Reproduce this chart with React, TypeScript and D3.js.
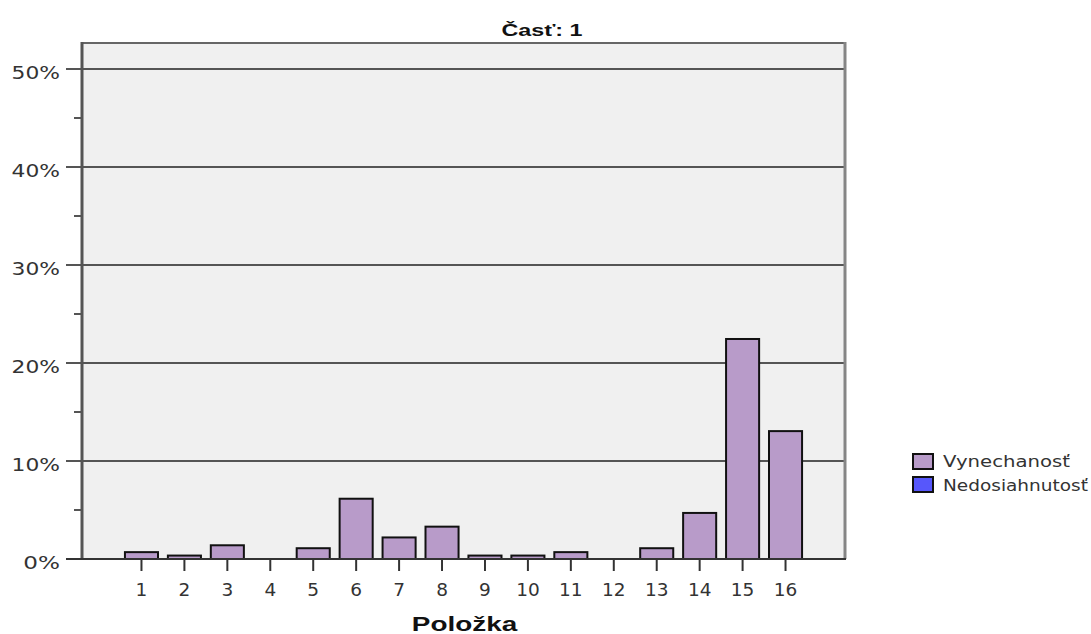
import React from "react";
import * as d3 from "d3";

const title = "Časť: 1";
const xTitle = "Položka";
const categories = ["1","2","3","4","5","6","7","8","9","10","11","12","13","14","15","16"];
const vynechanost = [0.7, 0.35, 1.4, 0, 1.1, 6.15, 2.2, 3.3, 0.35, 0.35, 0.7, 0, 1.1, 4.7, 22.45, 13.05];
const nedosiahnutost = [0, 0, 0, 0, 0, 0, 0, 0, 0, 0, 0, 0, 0, 0, 0, 0];
const seriesNames = ["Vynechanosť", "Nedosiahnutosť"];
const seriesColors = ["#b89bc9", "#5757fb"];
const yMajorTicks = [0, 10, 20, 30, 40, 50];
const yMinorTicks = [5, 15, 25, 35, 45];

const W = 1091, H = 634;
const left = 82, right = 845, top = 43, bottom = 559;
const legendTextWidths = [127, 145];

export default function App() {
  const x = d3.scaleBand<string>().domain(categories).range([left, right]).paddingInner(0.23).paddingOuter(1.0);
  const y = d3.scaleLinear().domain([0, 50]).range([bottom, 69]);

  const stacked = categories.map((c, i) => ({ c, v: vynechanost[i], n: nedosiahnutost[i] }));

  return (
    <svg width={W} height={H} style={{ position: "absolute", left: 0, top: 0 }}>
      <rect x={left} y={top} width={right - left} height={bottom - top} fill="#f0f0f0" />
      {/* title */}
      <text
        x={542} y={36}
        textAnchor="middle"
        fontFamily="Liberation Sans, Arial, sans-serif"
        fontWeight="bold"
        fontSize={17}
        fill="#111"
        textLength={81} lengthAdjust="spacingAndGlyphs"
      >{title}</text>
      {/* gridlines */}
      {yMajorTicks.filter(t => t > 0).map(t => (
        <line key={"g" + t} x1={66} x2={right} y1={y(t)} y2={y(t)} stroke="#555" strokeWidth={2} />
      ))}
      {/* minor ticks */}
      {yMinorTicks.map(t => (
        <line key={"m" + t} x1={74} x2={left} y1={y(t)} y2={y(t)} stroke="#555" strokeWidth={2} />
      ))}
      {/* y tick labels */}
      {yMajorTicks.map(t => {
        const lbl = `${t}%`;
        const digits = lbl.length - 1;
        return (
          <text key={"yl" + t} x={60} y={y(t) + 10} textAnchor="end"
            fontFamily="DejaVu Sans, Verdana, sans-serif" fontSize={18} fill="#333"
            textLength={digits * 11.7 + 25} lengthAdjust="spacingAndGlyphs">{lbl}</text>
        );
      })}
      {/* bars */}
      {stacked.filter(d => d.v > 0).map(d => (
        <rect key={"b" + d.c} x={x(d.c)!} y={y(d.v)} width={x.bandwidth()} height={y(0) - y(d.v)}
          fill={seriesColors[0]} stroke="#111" strokeWidth={2} />
      ))}
      {stacked.filter(d => d.n > 0).map(d => (
        <rect key={"n" + d.c} x={x(d.c)!} y={y(d.v + d.n)} width={x.bandwidth()} height={y(d.v) - y(d.v + d.n)}
          fill={seriesColors[1]} stroke="#111" strokeWidth={2} />
      ))}
      {/* frame */}
      <line x1={left} x2={right} y1={top} y2={top} stroke="#666" strokeWidth={2} />
      <line x1={right} x2={right} y1={top - 1} y2={bottom} stroke="#858585" strokeWidth={3} />
      <line x1={left} x2={left} y1={top - 1} y2={bottom + 1} stroke="#555" strokeWidth={3} />
      <line x1={66} x2={right + 1} y1={bottom} y2={bottom} stroke="#333" strokeWidth={2} />
      {/* x ticks */}
      {categories.map(c => {
        const cx = x(c)! + x.bandwidth() / 2;
        return (
          <g key={"xt" + c}>
            <line x1={cx} x2={cx} y1={bottom} y2={571} stroke="#333" strokeWidth={2} />
            <text x={cx} y={596} textAnchor="middle" fontFamily="DejaVu Sans, Verdana, sans-serif"
              fontSize={18.5} fill="#333">{c}</text>
          </g>
        );
      })}
      {/* x title */}
      <text
        transform={`translate(${(left + right) / 2 + 1},631) scale(1.33,1)`}
        textAnchor="middle"
        fontFamily="Liberation Sans, Arial, sans-serif"
        fontWeight="bold"
        fontSize={21}
        fill="#111"
      >{xTitle}</text>
      {/* legend */}
      {seriesNames.map((s, i) => (
        <g key={"lg" + s}>
          <rect x={913} y={454 + i * 23} width={20} height={15} fill={seriesColors[i]} stroke="#111" strokeWidth={2} />
          <text x={943} y={467 + i * 24}
            fontFamily="DejaVu Sans, Verdana, sans-serif" fontSize={15} fill="#333"
            textLength={legendTextWidths[i]} lengthAdjust="spacingAndGlyphs">{s}</text>
        </g>
      ))}
    </svg>
  );
}
